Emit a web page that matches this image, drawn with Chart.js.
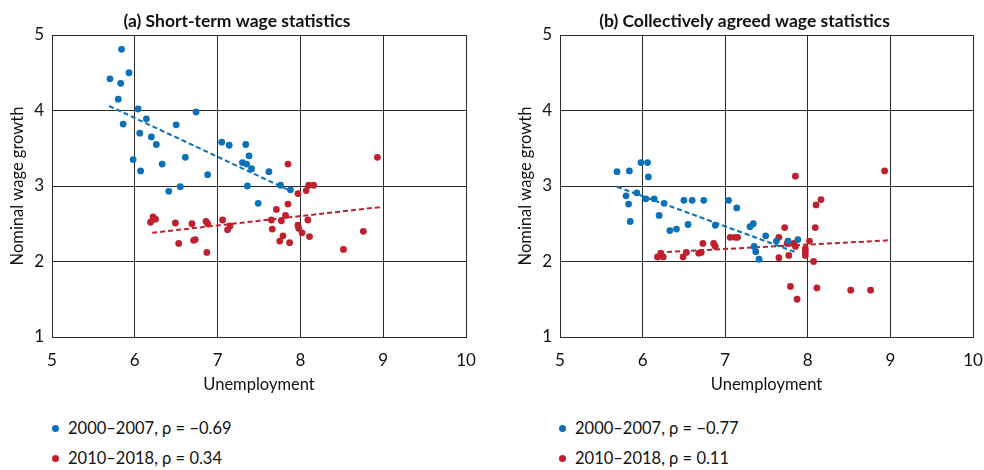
<!DOCTYPE html>
<html>
<head>
<meta charset="utf-8">
<script src="https://cdn.jsdelivr.net/npm/chart.js@4.4.1/dist/chart.umd.min.js"></script>
<style>
  html, body { margin: 0; padding: 0; background: #fff; }
  body { width: 984px; height: 470px; position: relative; overflow: hidden; font-family: Lato, "Open Sans", sans-serif; }
  .panel { position: absolute; top: 0; width: 492px; height: 470px; }
  .panel canvas { position: absolute; left: 0; top: 0; }
  .legend { position: absolute; top: 414px; font-size: 16.5px; color: #111; line-height: 29.5px; }
  .legend .dot { display: inline-block; width: 7px; height: 7px; border-radius: 50%; margin-right: 9px; vertical-align: 2px; }
</style>
</head>
<body>
<div class="panel" style="left:0"><canvas id="chartA" width="492" height="399"></canvas>
  <div class="legend" style="left:52px" id="legendA"></div></div>
<div class="panel" style="left:492px"><canvas id="chartB" width="492" height="399"></canvas>
  <div class="legend" style="left:67px" id="legendB"></div></div>
<script>
// Shared axis ticks
const xTicks = [5, 6, 7, 8, 9, 10];
const yTicks = [1, 2, 3, 4, 5];

// Series labels
const seriesLabels = ['2000\u20132007', '2010\u20132018'];

// (a) Short-term wage statistics
const aEarlyX = [5.70,5.84,5.83,5.93,5.80,5.86,6.04,6.14,6.06,6.20,6.26,5.98,6.07,6.33,6.50,6.61,6.74,6.41,6.55,6.88,7.05,7.14,7.34,7.38,7.30,7.35,7.41,7.36,7.62,7.76,7.88,7.49];
const aEarlyY = [4.42,4.81,4.36,4.50,4.15,3.82,4.02,3.89,3.70,3.65,3.55,3.35,3.20,3.29,3.81,3.38,3.98,2.93,2.99,3.15,3.58,3.54,3.55,3.40,3.31,3.29,3.23,3.00,3.19,3.01,2.95,2.77];
const aLateX = [7.85,8.93,7.97,8.07,8.10,8.16,6.19,6.22,6.25,6.49,6.69,6.86,6.88,7.06,7.15,7.12,6.53,6.71,6.73,6.87,7.71,7.85,7.82,7.65,7.77,7.66,7.79,7.75,7.87,7.97,7.98,8.02,8.09,8.11,8.52,8.76];
const aLateY = [3.29,3.38,2.90,2.94,3.01,3.01,2.52,2.59,2.56,2.51,2.50,2.53,2.50,2.55,2.47,2.42,2.24,2.28,2.29,2.12,2.69,2.76,2.61,2.55,2.54,2.43,2.34,2.27,2.25,2.48,2.44,2.38,2.55,2.33,2.16,2.40];
const aEarlyFitX = [5.69, 7.87];
const aEarlyFitY = [4.06, 2.94];
const aLateFitX = [6.21, 8.96];
const aLateFitY = [2.38, 2.72];
const aRho = ['\u22120.69', '0.34'];

// (b) Collectively agreed wage statistics
const bEarlyX = [5.69,5.84,5.98,6.06,6.07,5.80,5.83,5.85,5.93,6.04,6.14,6.26,6.20,6.33,6.41,6.50,6.60,6.74,6.55,6.88,7.04,7.14,7.30,7.34,7.35,7.37,7.41,7.49,7.62,7.76,7.88];
const bEarlyY = [3.19,3.20,3.31,3.31,3.12,2.87,2.76,2.53,2.91,2.83,2.83,2.77,2.61,2.41,2.43,2.81,2.81,2.81,2.49,2.48,2.81,2.71,2.46,2.50,2.20,2.13,2.03,2.34,2.27,2.27,2.29];
const bLateX = [7.85,8.93,6.18,6.22,6.25,6.49,6.53,6.68,6.71,6.73,6.86,6.88,7.06,7.12,7.15,7.65,7.72,7.65,7.77,7.75,7.83,7.85,7.79,7.87,7.97,7.97,7.97,8.02,8.07,8.09,8.10,8.16,8.11,8.52,8.76];
const bLateY = [3.13,3.20,2.06,2.11,2.06,2.06,2.12,2.11,2.12,2.24,2.24,2.20,2.32,2.32,2.32,2.32,2.45,2.05,2.08,2.24,2.24,2.20,1.67,1.50,2.17,2.13,2.08,2.27,2.00,2.45,2.75,2.82,1.65,1.62,1.62];
const bEarlyFitX = [5.69, 7.86];
const bEarlyFitY = [2.99, 2.12];
const bLateFitX = [6.20, 8.97];
const bLateFitY = [2.12, 2.28];
const bRho = ['\u22120.77', '0.11'];

const BLUE = '#0a70ba';
const RED = '#c0202e';
const GRID = '#2a2a2a';
const FONT = 'Lato, "Open Sans", sans-serif';

const pts = (xs, ys) => xs.map((x, i) => ({ x: x, y: ys[i] }));

function scatterSet(xs, ys, color) {
  return { type: 'scatter', data: pts(xs, ys), backgroundColor: color, borderColor: color,
           pointRadius: 3.4, pointBorderWidth: 0, pointHoverRadius: 3.4 };
}
function fitSet(xs, ys, color) {
  return { type: 'line', data: pts(xs, ys), borderColor: color, borderWidth: 2, borderDash: [5, 3],
           pointRadius: 0, fill: false, tension: 0 };
}

function makeChart(id, title, sets, padLeft, padRight) {
  new Chart(document.getElementById(id), {
    type: 'scatter',
    data: { datasets: sets },
    options: {
      responsive: false,
      animation: false,
      events: [],
      layout: { padding: { left: padLeft, right: padRight, top: 0, bottom: 0 } },
      plugins: {
        legend: { display: false },
        tooltip: { enabled: false },
        title: { display: true, text: title, color: '#111',
                 font: { family: FONT, size: 17.5, weight: 'bold' }, padding: { top: 11, bottom: 3 } }
      },
      scales: {
        x: {
          type: 'linear', min: 5, max: 10,
          afterBuildTicks: s => { s.ticks = xTicks.map(v => ({ value: v })); },
          grid: { color: GRID, lineWidth: 1, drawTicks: false },
          border: { color: GRID, width: 1 },
          ticks: { color: '#111', font: { family: FONT, size: 17 }, padding: 13 },
          title: { display: true, text: 'Unemployment', color: '#111', font: { family: FONT, size: 16.5 }, padding: { top: 0 } },
          afterFit: s => { s.height = 62; s.paddingLeft = 0; s.paddingRight = 0; }
        },
        y: {
          type: 'linear', min: 1, max: 5,
          afterBuildTicks: s => { s.ticks = yTicks.map(v => ({ value: v })); },
          grid: { color: GRID, lineWidth: 1, drawTicks: false },
          border: { color: GRID, width: 1 },
          ticks: { color: '#111', font: { family: FONT, size: 17 }, padding: 8 },
          title: { display: true, text: 'Nominal wage growth', color: '#111', font: { family: FONT, size: 16.5 }, padding: 0 },
          afterFit: s => { s.width = 44; }
        }
      }
    }
  });
}

function makeLegend(id, rho) {
  const el = document.getElementById(id);
  [BLUE, RED].forEach((c, i) => {
    const row = document.createElement('div');
    const dot = document.createElement('span');
    dot.className = 'dot';
    dot.style.background = c;
    row.appendChild(dot);
    row.appendChild(document.createTextNode(seriesLabels[i] + ', \u03c1 = ' + rho[i]));
    el.appendChild(row);
  });
}

makeChart('chartA', '(a) Short-term wage statistics', [
  scatterSet(aEarlyX, aEarlyY, BLUE), scatterSet(aLateX, aLateY, RED),
  fitSet(aEarlyFitX, aEarlyFitY, BLUE), fitSet(aLateFitX, aLateFitY, RED)
], 8, 26);
makeChart('chartB', '(b) Collectively agreed wage statistics', [
  scatterSet(bEarlyX, bEarlyY, BLUE), scatterSet(bLateX, bLateY, RED),
  fitSet(bEarlyFitX, bEarlyFitY, BLUE), fitSet(bLateFitX, bLateFitY, RED)
], 24, 11);
makeLegend('legendA', aRho);
makeLegend('legendB', bRho);
</script>
</body>
</html>
